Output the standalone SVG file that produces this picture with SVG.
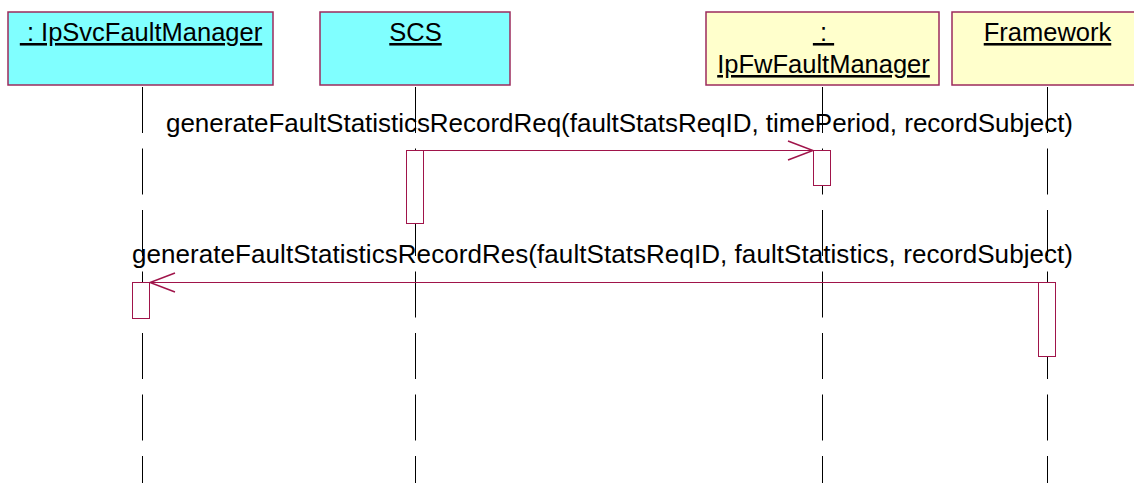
<svg xmlns="http://www.w3.org/2000/svg" width="1134" height="483" viewBox="0 0 1134 483">
<style>
text{font-family:"Liberation Sans",Arial,sans-serif;fill:#000}
.hdr{font-size:25.5px;text-anchor:middle;text-decoration:underline}
.msg{font-size:26px}
.obj-c{fill:#80FFFF;stroke:#9c2b5c;stroke-width:1.5}
.obj-y{fill:#FFFFCC;stroke:#9c2b5c;stroke-width:1.5}
.life{stroke:#000;stroke-width:1;stroke-dasharray:46 15.5;fill:none}
.act{fill:#fff;stroke:#a0144a;stroke-width:1}
.line{stroke:#a0144a;stroke-width:1;fill:none}
</style>
<defs>
<marker id="open" viewBox="-26 -11 28 22" refX="0" refY="0" markerWidth="28" markerHeight="22" markerUnits="userSpaceOnUse" orient="auto">
<path d="M-25,-9.5 L0,0 L-25,9.5" fill="none" stroke="#a0144a" stroke-width="1.5"/>
</marker>
</defs>
<rect width="1134" height="483" fill="#fff"/>
<g id="lifelines">
<line class="life" x1="142.5" y1="87" x2="142.5" y2="483"/>
<line class="life" x1="415.5" y1="87" x2="415.5" y2="483"/>
<line class="life" x1="822.5" y1="87" x2="822.5" y2="483"/>
<line class="life" x1="1047.5" y1="87" x2="1047.5" y2="483"/>
</g>
<g id="node-ipsvc">
<rect class="obj-c" x="8" y="12" width="265" height="73"/>
<text class="hdr" x="141" y="41" xml:space="preserve"> : IpSvcFaultManager</text>
</g>
<g id="node-scs">
<rect class="obj-c" x="320" y="12" width="190" height="73"/>
<text class="hdr" x="415.5" y="41">SCS</text>
</g>
<g id="node-ipfw">
<rect class="obj-y" x="706" y="12" width="233" height="73"/>
<text class="hdr" x="823.5" y="41" xml:space="preserve"> : </text>
<text class="hdr" x="823.5" y="73">IpFwFaultManager</text>
</g>
<g id="node-framework">
<rect class="obj-y" x="952" y="12" width="192" height="73"/>
<text class="hdr" x="1047.5" y="41">Framework</text>
</g>
<g id="activations">
<rect class="act" x="406.5" y="150.5" width="17" height="73"/>
<rect class="act" x="813.5" y="150.5" width="17" height="35"/>
<rect class="act" x="132.5" y="282.5" width="17" height="36"/>
<rect class="act" x="1038.5" y="282.5" width="17" height="74"/>
</g>
<g id="connectors">
<line class="line" x1="423.5" y1="150.5" x2="813" y2="150.5" marker-end="url(#open)"/>
<text class="msg" x="166" y="132" textLength="907" lengthAdjust="spacing">generateFaultStatisticsRecordReq(faultStatsReqID, timePeriod, recordSubject)</text>
<line class="line" x1="1038.5" y1="282.5" x2="150" y2="282.5" marker-end="url(#open)"/>
<text class="msg" x="132" y="263" textLength="941" lengthAdjust="spacing">generateFaultStatisticsRecordRes(faultStatsReqID, faultStatistics, recordSubject)</text>
</g>
</svg>
